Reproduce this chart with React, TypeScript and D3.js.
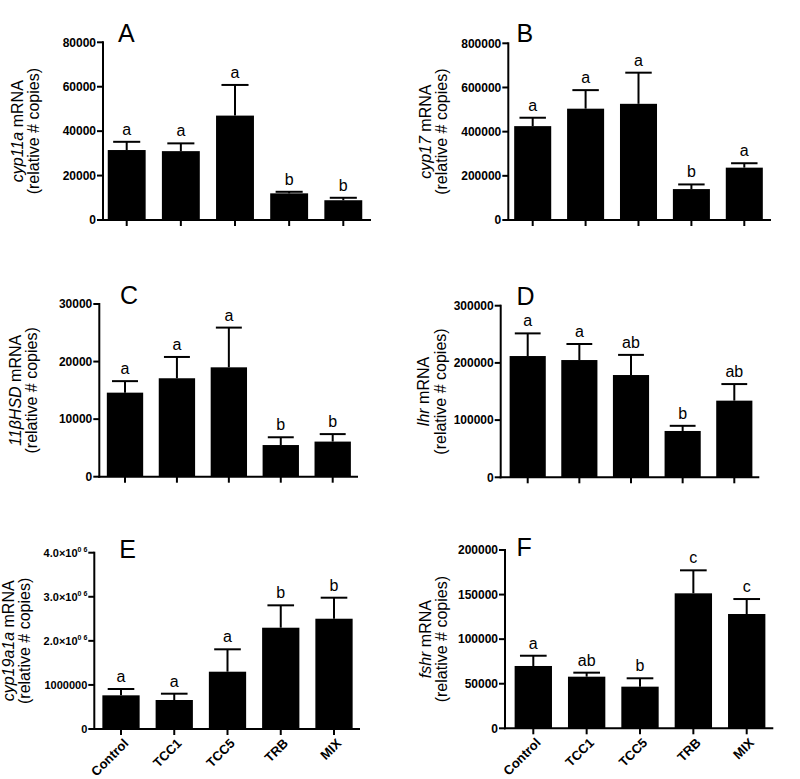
import React from "react";
import * as d3 from "d3";

const categories = ["Control", "TCC1", "TCC5", "TRB", "MIX"];

// A: cyp11a
const cyp11aMean = [31500, 31000, 47000, 12000, 8900];
const cyp11aSem = [3700, 3500, 13800, 700, 1100];
const cyp11aLetters = ["a", "a", "a", "b", "b"];
const cyp11aTicks = [0, 20000, 40000, 60000, 80000];
const cyp11aTickLabels = ["0", "20000", "40000", "60000", "80000"];

// B: cyp17
const cyp17Mean = [425000, 504000, 526000, 140000, 237000];
const cyp17Sem = [38000, 84000, 141000, 21000, 20000];
const cyp17Letters = ["a", "a", "a", "b", "a"];
const cyp17Ticks = [0, 200000, 400000, 600000, 800000];
const cyp17TickLabels = ["0", "200000", "400000", "600000", "800000"];

// C: 11βHSD
const hsdMean = [14600, 17100, 19000, 5500, 6100];
const hsdSem = [2000, 3700, 6900, 1350, 1300];
const hsdLetters = ["a", "a", "a", "b", "b"];
const hsdTicks = [0, 10000, 20000, 30000];
const hsdTickLabels = ["0", "10000", "20000", "30000"];

// D: lhr
const lhrMean = [212000, 205000, 178800, 81000, 134000];
const lhrSem = [39600, 28000, 35200, 9000, 29000];
const lhrLetters = ["a", "a", "ab", "b", "ab"];
const lhrTicks = [0, 100000, 200000, 300000];
const lhrTickLabels = ["0", "100000", "200000", "300000"];

// E: cyp19a1a
const cyp19Mean = [764000, 658000, 1300000, 2298000, 2502000];
const cyp19Sem = [143000, 143000, 508000, 508000, 477000];
const cyp19Letters = ["a", "a", "a", "b", "b"];
const cyp19Ticks = [0, 1000000, 2000000, 3000000, 4000000];
const cyp19TickLabels = ["0", "1000000", "2.0×10^0 6", "3.0×10^0 6", "4.0×10^0 6"];

// F: fshr
const fshrMean = [69900, 57900, 46700, 151400, 128200];
const fshrSem = [11500, 4500, 9400, 25800, 16800];
const fshrLetters = ["a", "ab", "b", "c", "c"];
const fshrTicks = [0, 50000, 100000, 150000, 200000];
const fshrTickLabels = ["0", "50000", "100000", "150000", "200000"];

const FONT = "'Liberation Sans', Arial, Helvetica, sans-serif";

type Panel = {
  label: string;
  gene: string;
  mean: number[];
  sem: number[];
  letters: string[];
  ticks: number[];
  tickLabels: string[];
  showX: boolean;
  tickFont: number;
  // layout
  x0: number;
  xEnd: number;
  c0: number;
  c4: number;
  yTop: number;
  yBase: number;
  labelX: number;
  labelY: number;
  t1: number;
  t2: number;
};

const panels: Panel[] = [
  {
    label: "A", gene: "cyp11a", mean: cyp11aMean, sem: cyp11aSem, letters: cyp11aLetters,
    ticks: cyp11aTicks, tickLabels: cyp11aTickLabels, showX: false, tickFont: 12,
    x0: 103, xEnd: 371, c0: 126.7, c4: 343.3, yTop: 42.3, yBase: 220,
    labelX: 118, labelY: 41.7, t1: 17, t2: 33,
  },
  {
    label: "B", gene: "cyp17", mean: cyp17Mean, sem: cyp17Sem, letters: cyp17Letters,
    ticks: cyp17Ticks, tickLabels: cyp17TickLabels, showX: false, tickFont: 12,
    x0: 508.3, xEnd: 771, c0: 532.7, c4: 744.3, yTop: 43.3, yBase: 220,
    labelX: 516.5, labelY: 41.7, t1: 425, t2: 441,
  },
  {
    label: "C", gene: "11βHSD", mean: hsdMean, sem: hsdSem, letters: hsdLetters,
    ticks: hsdTicks, tickLabels: hsdTickLabels, showX: false, tickFont: 12,
    x0: 99.3, xEnd: 358, c0: 125, c4: 332.7, yTop: 304, yBase: 476.7,
    labelX: 120, labelY: 304, t1: 15, t2: 31.5,
  },
  {
    label: "D", gene: "lhr", mean: lhrMean, sem: lhrSem, letters: lhrLetters,
    ticks: lhrTicks, tickLabels: lhrTickLabels, showX: false, tickFont: 12,
    x0: 500.7, xEnd: 759.3, c0: 527.7, c4: 734.3, yTop: 305.7, yBase: 477.3,
    labelX: 516.5, labelY: 305, t1: 423.5, t2: 440,
  },
  {
    label: "E", gene: "cyp19a1a", mean: cyp19Mean, sem: cyp19Sem, letters: cyp19Letters,
    ticks: cyp19Ticks, tickLabels: cyp19TickLabels, showX: true, tickFont: 11,
    x0: 94.3, xEnd: 360, c0: 121, c4: 334, yTop: 552.7, yBase: 729,
    labelX: 119.3, labelY: 557.7, t1: 8, t2: 24,
  },
  {
    label: "F", gene: "fshr", mean: fshrMean, sem: fshrSem, letters: fshrLetters,
    ticks: fshrTicks, tickLabels: fshrTickLabels, showX: true, tickFont: 12,
    x0: 505, xEnd: 773.3, c0: 533.3, c4: 746.7, yTop: 550, yBase: 728.3,
    labelX: 516.5, labelY: 555.7, t1: 425, t2: 441.5,
  },
];

function TickLabel({ text, x, y, size }: { text: string; x: number; y: number; size: number }) {
  const parts = text.split("^");
  if (parts.length === 1) {
    return (
      <text x={x} y={y} textAnchor="end" dy="0.35em" fontFamily={FONT} fontWeight="bold" fontSize={size}>
        {text}
      </text>
    );
  }
  return (
    <text x={x} y={y} textAnchor="end" dy="0.35em" fontFamily={FONT} fontWeight="bold" fontSize={size}>
      {parts[0]}
      <tspan fontSize={7} dy="-5" xmlSpace="preserve">{parts[1]}</tspan>
    </text>
  );
}

function PanelView({ p }: { p: Panel }) {
  const x = d3.scalePoint<string>().domain(categories).range([p.c0, p.c4]);
  const step = x.step();
  const bw = step * 0.7;
  const y = d3
    .scaleLinear()
    .domain([0, p.ticks[p.ticks.length - 1]])
    .range([p.yBase, p.yTop]);
  const yMid = (p.yTop + p.yBase) / 2;
  const sw = 2;
  return (
    <g>
      {categories.map((c, i) => {
        const cx = x(c)!;
        const top = y(p.mean[i]);
        const et = y(p.mean[i] + p.sem[i]);
        return (
          <g key={c}>
            <rect x={cx - bw / 2} y={top} width={bw} height={p.yBase - top} fill="#000" />
            <line x1={cx} x2={cx} y1={top} y2={et} stroke="#000" strokeWidth={sw} />
            <line x1={cx - step * 0.25} x2={cx + step * 0.25} y1={et} y2={et} stroke="#000" strokeWidth={sw} />
            <text x={cx} y={et - 7} textAnchor="middle" fontFamily={FONT} fontSize={16}>
              {p.letters[i]}
            </text>
          </g>
        );
      })}
      <line x1={p.x0} x2={p.x0} y1={p.yTop - 1} y2={p.yBase + 1} stroke="#000" strokeWidth={sw} />
      {p.ticks.map((t, i) => (
        <g key={t}>
          <line x1={p.x0 - 6} x2={p.x0} y1={y(t)} y2={y(t)} stroke="#000" strokeWidth={sw} />
          <TickLabel text={p.tickLabels[i]} x={p.x0 - 7} y={y(t)} size={p.tickFont} />
        </g>
      ))}
      <line x1={p.x0 - 1} x2={p.xEnd} y1={p.yBase} y2={p.yBase} stroke="#000" strokeWidth={sw} />
      {categories.map((c) => (
        <line key={c} x1={x(c)!} x2={x(c)!} y1={p.yBase} y2={p.yBase + 6} stroke="#000" strokeWidth={sw} />
      ))}
      {p.showX &&
        categories.map((c) => (
          <text
            key={c}
            transform={`translate(${x(c)! + 5},${p.yBase + 12}) rotate(-45)`}
            textAnchor="end"
            dy="0.35em"
            fontFamily={FONT}
            fontWeight="bold"
            fontSize={13}
          >
            {c}
          </text>
        ))}
      <text x={p.labelX} y={p.labelY} fontFamily={FONT} fontSize={25}>
        {p.label}
      </text>
      <text
        transform={`translate(${p.t1},${yMid}) rotate(-90)`}
        textAnchor="middle"
        dy="0.35em"
        fontFamily={FONT}
        fontSize={16}
      >
        <tspan fontStyle="italic">{p.gene}</tspan>
        <tspan> mRNA</tspan>
      </text>
      <text
        transform={`translate(${p.t2},${yMid}) rotate(-90)`}
        textAnchor="middle"
        dy="0.35em"
        fontFamily={FONT}
        fontSize={16}
      >
        (relative # copies)
      </text>
    </g>
  );
}

export default function App() {
  return (
    <div style={{ position: "absolute", left: 0, top: 0 }}>
      <svg width={800} height={779} style={{ display: "block", background: "#fff" }}>
        <rect width={800} height={779} fill="#fff" />
        {panels.map((p) => (
          <PanelView key={p.label} p={p} />
        ))}
      </svg>
    </div>
  );
}
